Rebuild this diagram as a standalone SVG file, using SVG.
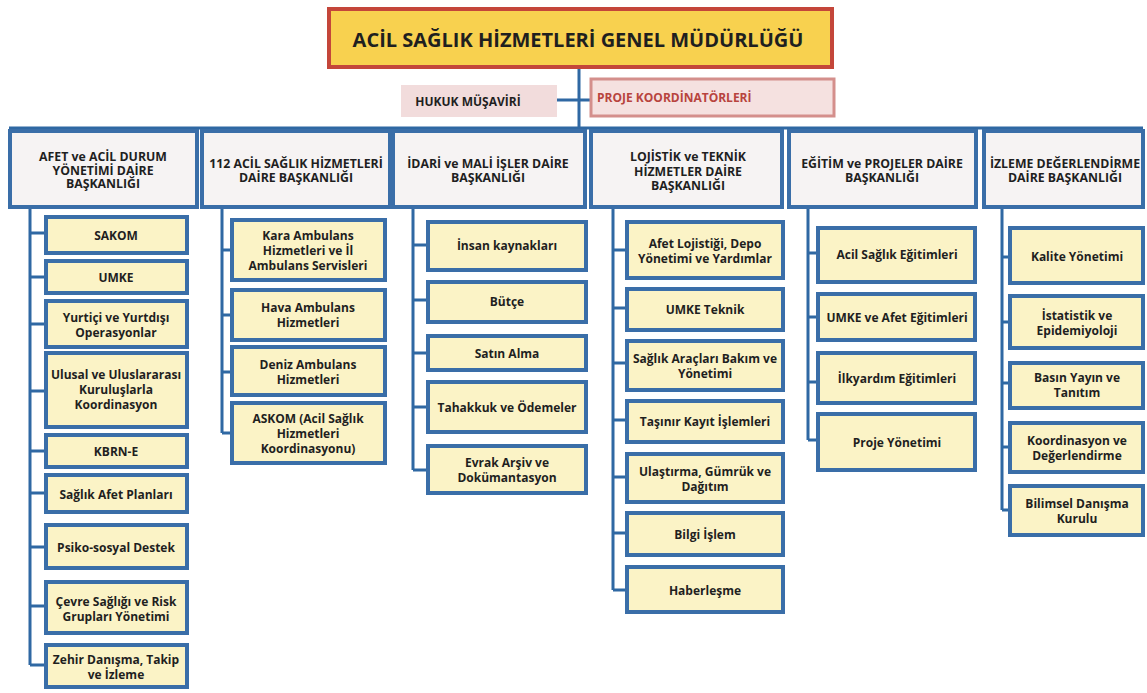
<svg xmlns="http://www.w3.org/2000/svg" width="1147" height="693" viewBox="0 0 1147 693">
<style>
text{font-family:"Open Sans","Liberation Sans","DejaVu Sans",sans-serif;font-weight:bold;fill:#1f1f1f;text-anchor:middle;dominant-baseline:central}
.hd rect{fill:#f6f3f3;stroke:#3a6ea8;stroke-width:4}
.ch rect{fill:#fbf3c6;stroke:#3a6ea8;stroke-width:4}
.hd text{font-size:12.3px}
.ch text{font-size:12px}
.cn{stroke:#2f68a3;stroke-width:3;fill:none}
</style>
<rect width="1147" height="693" fill="#ffffff"/>
<g class="cn" id="connectors">
<path d="M579 67V128M9 128H1143M557 100H591"/>
<path d="M30 207V665M30 233H45M30 277H45M30 324H45M30 391H45M30 451H45M30 493H45M30 547H45M30 606H45M30 665H45"/>
<path d="M222 207V433M222 250H232M222 315H232M222 372H232M222 433H232"/>
<path d="M413 207V470M413 245H428M413 300H428M413 353H428M413 407H428M413 470H428"/>
<path d="M613 207V590M613 250H627M613 308H627M613 363H627M613 420H627M613 477H627M613 533H627M613 590H627"/>
<path d="M808 207V440M808 253H818M808 317H818M808 382H818M808 440H818"/>
<path d="M1002 207V510M1002 257H1010M1002 322H1010M1002 383H1010M1002 447H1010M1002 510H1010"/>
</g>
<g id="genel">
<rect x="329" y="9" width="503" height="58" fill="#f8d14f" stroke="#c4463a" stroke-width="4"/>
<text x="578" y="39" style="font-size:20px">ACİL SAĞLIK HİZMETLERİ GENEL MÜDÜRLÜĞÜ</text>
</g>
<g id="hukuk">
<rect x="401" y="85" width="156" height="32" fill="#f2dcdc"/>
<text x="468" y="101" style="font-size:12px">HUKUK MÜŞAVİRİ</text>
</g>
<g id="proje-koord">
<rect x="591" y="79" width="243" height="37" fill="#f5e1e0" stroke="#d48f8c" stroke-width="3"/>
<text x="597" y="97" style="font-size:12px;fill:#b8443e;text-anchor:start">PROJE KOORDİNATÖRLERİ</text>
</g>
<g id="h1" class="hd"><rect x="10" y="131" width="187" height="76"/><text x="103" y="156">AFET ve ACİL DURUM<tspan x="103" dy="13.5">YÖNETİMİ DAİRE</tspan><tspan x="103" dy="13.5">BAŞKANLIĞI</tspan></text></g>
<g id="h2" class="hd"><rect x="202" y="131" width="188" height="76"/><text x="296" y="163">112 ACİL SAĞLIK HİZMETLERİ<tspan x="296" dy="14">DAİRE BAŞKANLIĞI</tspan></text></g>
<g id="h3" class="hd"><rect x="393" y="131" width="192" height="76"/><text x="488" y="163">İDARİ ve MALİ İŞLER DAİRE<tspan x="488" dy="14">BAŞKANLIĞI</tspan></text></g>
<g id="h4" class="hd"><rect x="591" y="131" width="191" height="76"/><text x="688" y="156">LOJİSTİK  ve TEKNİK<tspan x="688" dy="14.5">HİZMETLER DAİRE</tspan><tspan x="688" dy="14.5">BAŞKANLIĞI</tspan></text></g>
<g id="h5" class="hd"><rect x="789" y="131" width="187" height="76"/><text x="882" y="163">EĞİTİM ve PROJELER DAİRE<tspan x="882" dy="14">BAŞKANLIĞI</tspan></text></g>
<g id="h6" class="hd"><rect x="984" y="131" width="159" height="76"/><text x="1065" y="163">İZLEME DEĞERLENDİRME<tspan x="1065" dy="14">DAİRE BAŞKANLIĞI</tspan></text></g>

<g id="c1-1" class="ch"><rect x="46" y="217" width="141" height="36"/><text x="116" y="235">SAKOM</text></g>
<g id="c1-2" class="ch"><rect x="46" y="261" width="141" height="32"/><text x="116" y="277">UMKE</text></g>
<g id="c1-3" class="ch"><rect x="46" y="301" width="141" height="46"/><text x="116" y="317">Yurtiçi ve Yurtdışı<tspan x="116" dy="14.5">Operasyonlar</tspan></text></g>
<g id="c1-4" class="ch"><rect x="46" y="353" width="141" height="74"/><text x="116" y="374">Ulusal ve Uluslararası<tspan x="116" dy="15">Kuruluşlarla</tspan><tspan x="116" dy="15">Koordinasyon</tspan></text></g>
<g id="c1-5" class="ch"><rect x="46" y="435" width="141" height="32"/><text x="116" y="451">KBRN-E</text></g>
<g id="c1-6" class="ch"><rect x="46" y="475" width="141" height="37"/><text x="116" y="494">Sağlık Afet Planları</text></g>
<g id="c1-7" class="ch"><rect x="46" y="525" width="141" height="43"/><text x="116" y="547">Psiko-sosyal Destek</text></g>
<g id="c1-8" class="ch"><rect x="46" y="582" width="141" height="51"/><text x="116" y="601">Çevre Sağlığı ve Risk<tspan x="116" dy="14.5">Grupları Yönetimi</tspan></text></g>
<g id="c1-9" class="ch"><rect x="46" y="645" width="141" height="42"/><text x="116" y="659">Zehir Danışma, Takip<tspan x="116" dy="14.5">ve İzleme</tspan></text></g>

<g id="c2-1" class="ch"><rect x="232" y="220" width="153" height="60"/><text x="308" y="235">Kara Ambulans<tspan x="308" dy="15">Hizmetleri ve İl</tspan><tspan x="308" dy="15">Ambulans Servisleri</tspan></text></g>
<g id="c2-2" class="ch"><rect x="232" y="290" width="153" height="50"/><text x="308" y="307">Hava Ambulans<tspan x="308" dy="15">Hizmetleri</tspan></text></g>
<g id="c2-3" class="ch"><rect x="232" y="347" width="153" height="48"/><text x="308" y="364">Deniz Ambulans<tspan x="308" dy="15">Hizmetleri</tspan></text></g>
<g id="c2-4" class="ch"><rect x="232" y="403" width="153" height="60"/><text x="308" y="418">ASKOM (Acil Sağlık<tspan x="308" dy="15">Hizmetleri</tspan><tspan x="308" dy="15">Koordinasyonu)</tspan></text></g>

<g id="c3-1" class="ch"><rect x="428" y="222" width="158" height="48"/><text x="507" y="245">İnsan kaynakları</text></g>
<g id="c3-2" class="ch"><rect x="428" y="282" width="158" height="40"/><text x="507" y="301">Bütçe</text></g>
<g id="c3-3" class="ch"><rect x="428" y="336" width="158" height="34"/><text x="507" y="353">Satın Alma</text></g>
<g id="c3-4" class="ch"><rect x="428" y="382" width="158" height="50"/><text x="507" y="407">Tahakkuk ve Ödemeler</text></g>
<g id="c3-5" class="ch"><rect x="428" y="446" width="158" height="47"/><text x="507" y="462">Evrak Arşiv ve<tspan x="507" dy="15">Dokümantasyon</tspan></text></g>

<g id="c4-1" class="ch"><rect x="627" y="222" width="156" height="56"/><text x="705" y="243">Afet Lojistiği, Depo<tspan x="705" dy="14.5">Yönetimi ve Yardımlar</tspan></text></g>
<g id="c4-2" class="ch"><rect x="627" y="289" width="156" height="41"/><text x="705" y="309">UMKE Teknik</text></g>
<g id="c4-3" class="ch"><rect x="627" y="341" width="156" height="49"/><text x="705" y="358">Sağlık Araçları Bakım ve<tspan x="705" dy="14.5">Yönetimi</tspan></text></g>
<g id="c4-4" class="ch"><rect x="627" y="401" width="156" height="41"/><text x="705" y="421">Taşınır Kayıt İşlemleri</text></g>
<g id="c4-5" class="ch"><rect x="627" y="454" width="156" height="48"/><text x="705" y="471">Ulaştırma, Gümrük ve<tspan x="705" dy="14.5">Dağıtım</tspan></text></g>
<g id="c4-6" class="ch"><rect x="627" y="513" width="156" height="42"/><text x="705" y="534">Bilgi İşlem</text></g>
<g id="c4-7" class="ch"><rect x="627" y="567" width="156" height="45"/><text x="705" y="590">Haberleşme</text></g>

<g id="c5-1" class="ch"><rect x="818" y="228" width="157" height="54"/><text x="897" y="254">Acil Sağlık Eğitimleri</text></g>
<g id="c5-2" class="ch"><rect x="818" y="294" width="157" height="46"/><text x="897" y="317">UMKE ve Afet Eğitimleri</text></g>
<g id="c5-3" class="ch"><rect x="818" y="353" width="157" height="50"/><text x="897" y="378">İlkyardım Eğitimleri</text></g>
<g id="c5-4" class="ch"><rect x="818" y="414" width="157" height="56"/><text x="897" y="442">Proje Yönetimi</text></g>

<g id="c6-1" class="ch"><rect x="1010" y="228" width="133" height="55"/><text x="1077" y="256">Kalite Yönetimi</text></g>
<g id="c6-2" class="ch"><rect x="1010" y="296" width="133" height="52"/><text x="1077" y="315">İstatistik ve<tspan x="1077" dy="14.5">Epidemiyoloji</tspan></text></g>
<g id="c6-3" class="ch"><rect x="1010" y="363" width="133" height="45"/><text x="1077" y="377">Basın Yayın ve<tspan x="1077" dy="15">Tanıtım</tspan></text></g>
<g id="c6-4" class="ch"><rect x="1010" y="423" width="133" height="49"/><text x="1077" y="440">Koordinasyon ve<tspan x="1077" dy="14.5">Değerlendirme</tspan></text></g>
<g id="c6-5" class="ch"><rect x="1010" y="486" width="133" height="49"/><text x="1077" y="503">Bilimsel Danışma<tspan x="1077" dy="14.5">Kurulu</tspan></text></g>
</svg>
